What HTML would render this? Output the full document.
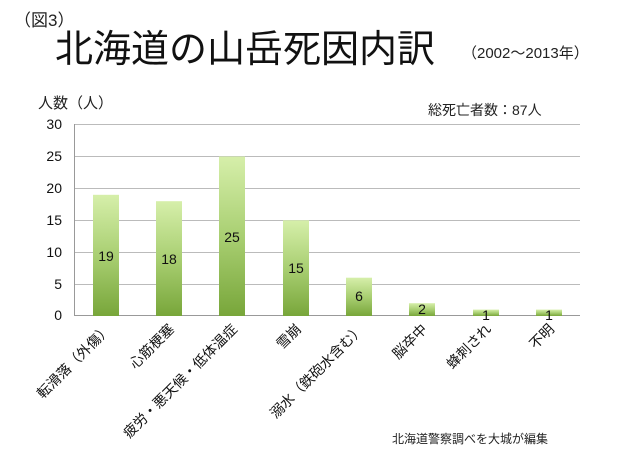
<!DOCTYPE html>
<html><head><meta charset="utf-8"><style>
body{margin:0;background:#fff;width:620px;height:465px;overflow:hidden}
text{font-family:"Liberation Sans","Noto Sans CJK JP",sans-serif}
</style></head><body>
<svg width="620" height="465" xmlns="http://www.w3.org/2000/svg">
<defs><linearGradient id="g" x1="0" y1="0" x2="0" y2="1">
<stop offset="0" stop-color="#d6efaa"/><stop offset="0.5" stop-color="#a9cf72"/><stop offset="1" stop-color="#78a63a"/></linearGradient></defs>
<text x="14" y="26" font-size="17" fill="#222">（図3）</text>
<text x="55" y="62" font-size="38" fill="#111">北海道の山岳死因内訳</text>
<text x="462" y="58" font-size="15" fill="#222">（2002〜2013年）</text>
<text x="38" y="108" font-size="15" fill="#222">人数（人）</text>
<text x="428" y="115" font-size="14" fill="#222">総死亡者数：87人</text>
<g stroke="#bbb" stroke-width="1">
<line x1="74" y1="124.5" x2="580" y2="124.5"/><line x1="74" y1="156.5" x2="580" y2="156.5"/>
<line x1="74" y1="188.5" x2="580" y2="188.5"/><line x1="74" y1="220.5" x2="580" y2="220.5"/>
<line x1="74" y1="252.5" x2="580" y2="252.5"/><line x1="74" y1="284.5" x2="580" y2="284.5"/>
<line x1="74" y1="315.5" x2="580" y2="315.5" stroke="#999"/><line x1="74.5" y1="124" x2="74.5" y2="316" stroke="#999"/>
</g>
<g font-size="14" fill="#111" text-anchor="end">
<text x="62" y="129">30</text><text x="62" y="161">25</text><text x="62" y="193">20</text><text x="62" y="225">15</text><text x="62" y="257">10</text><text x="62" y="289">5</text><text x="62" y="320">0</text>
</g>
<g fill="url(#g)">
<rect x="93" y="194.8" width="26" height="121.2"/>
<rect x="156" y="201.2" width="26" height="114.8"/>
<rect x="219" y="156.5" width="26" height="159.5"/>
<rect x="283" y="220.3" width="26" height="95.7"/>
<rect x="346" y="277.7" width="26" height="38.3"/>
<rect x="409" y="303.2" width="26" height="12.8"/>
<rect x="473" y="309.6" width="26" height="6.4"/>
<rect x="536" y="309.6" width="26" height="6.4"/>
</g>
<g font-size="14" fill="#111" text-anchor="middle">
<text x="106" y="261">19</text><text x="169" y="264">18</text><text x="232" y="242">25</text><text x="296" y="273">15</text>
<text x="359" y="301">6</text><text x="422" y="314">2</text><text x="486" y="320">1</text><text x="549" y="320">1</text>
</g>
<g font-size="14" fill="#111" text-anchor="end">
<text transform="translate(112,330) rotate(-45)">転滑落（外傷）</text>
<text transform="translate(175,330) rotate(-45)">心筋梗塞</text>
<text transform="translate(238,330) rotate(-45)">疲労・悪天候・低体温症</text>
<text transform="translate(302,330) rotate(-45)">雪崩</text>
<text transform="translate(365,330) rotate(-45)">溺水（鉄砲水含む）</text>
<text transform="translate(428,330) rotate(-45)">脳卒中</text>
<text transform="translate(492,330) rotate(-45)">蜂刺され</text>
<text transform="translate(555,330) rotate(-45)">不明</text>
</g>
<text x="392" y="443" font-size="12" fill="#222">北海道警察調べを大城が編集</text>
</svg>
</body></html>
